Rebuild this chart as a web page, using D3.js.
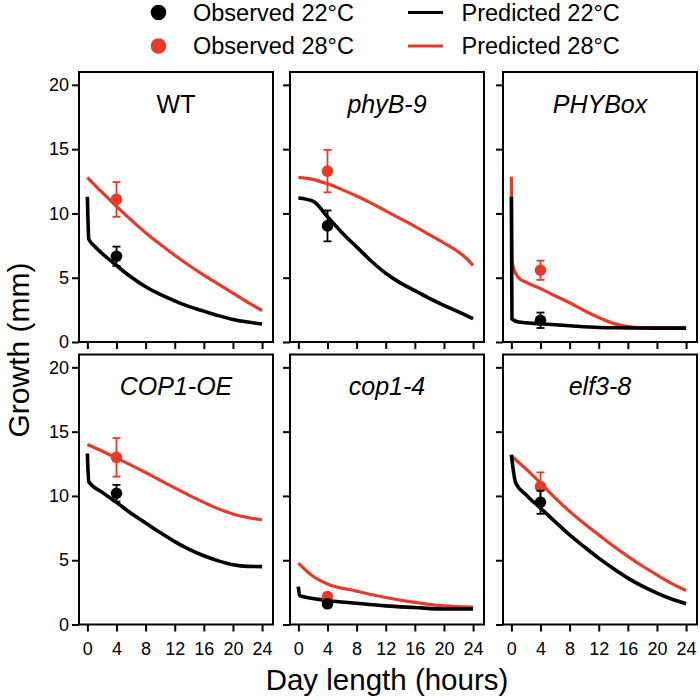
<!DOCTYPE html>
<html>
<head>
<meta charset="utf-8">
<script src="https://cdn.jsdelivr.net/npm/d3@7"></script>
<style>
  body { margin: 0; background: #fff; }
  svg { display: block; }
  text { font-family: "Liberation Sans", Arial, Helvetica, sans-serif; fill: #000; }
</style>
</head>
<body>
<svg id="chart" width="700" height="700"></svg>
<script>
// one panel per genotype
var genotypes = ["WT", "phyB-9", "PHYBox", "COP1-OE", "cop1-4", "elf3-8"];
var italicTitle = [false, true, true, true, true, true];
var xTicks = [0, 4, 8, 12, 16, 20, 24];
var yTicks = [0, 5, 10, 15, 20];

// observed growth at 4 h day length (mm), mean and error
var obsHour = 4;
var obs22 = [6.67, 9.03, 1.69, 10.21, 1.61, 9.51];
var err22 = [0.75, 1.2, 0.6, 0.65, 0.15, 0.9];
var obs28 = [11.09, 13.29, 5.58, 13.0, 2.18, 10.73];
var err28 = [1.35, 1.65, 0.75, 1.5, 0.15, 1.1];

// model predictions [day length, growth]
var pred22 = [
  [[0, 11.3], [0.2, 8.0], [1, 7.45], [2, 6.9], [4, 5.95], [6, 5.05], [8, 4.3], [10, 3.7], [12, 3.2], [14, 2.75], [16, 2.4], [18, 2.05], [20, 1.75], [22, 1.55], [24, 1.4]],
  [[0, 11.2], [2, 10.95], [4, 9.75], [6, 8.5], [8, 7.4], [10, 6.3], [12, 5.35], [14, 4.6], [16, 4.0], [18, 3.4], [20, 2.85], [22, 2.35], [24, 1.82]],
  [[0, 11.3], [0.08, 1.8], [1, 1.55], [4, 1.42], [8, 1.26], [12, 1.13], [16, 1.1], [20, 1.08], [24, 1.08]],
  [[0, 13.3], [0.2, 11.1], [2, 10.3], [4, 9.5], [6, 8.65], [8, 7.9], [10, 7.15], [12, 6.45], [14, 5.85], [16, 5.35], [18, 4.95], [20, 4.65], [22, 4.52], [24, 4.5]],
  [[0, 2.95], [0.15, 2.25], [4, 1.87], [8, 1.65], [12, 1.45], [16, 1.32], [20, 1.2], [24, 1.2]],
  [[0, 13.2], [0.6, 11.0], [2, 10.1], [4, 9.05], [6, 8.0], [8, 6.97], [10, 6.05], [12, 5.16], [14, 4.35], [16, 3.61], [18, 2.98], [20, 2.44], [22, 1.98], [24, 1.62]]
];
var pred28 = [
  [[0, 12.8], [2, 11.65], [4, 10.55], [6, 9.5], [8, 8.5], [10, 7.6], [12, 6.75], [14, 5.95], [16, 5.2], [18, 4.5], [20, 3.8], [22, 3.1], [24, 2.45]],
  [[0, 12.8], [2, 12.65], [4, 12.3], [6, 11.85], [8, 11.35], [10, 10.8], [12, 10.2], [14, 9.6], [16, 9.0], [18, 8.35], [20, 7.7], [22, 7.0], [23, 6.55], [24, 5.95]],
  [[0, 12.85], [0.08, 6.3], [0.5, 5.45], [1, 5.0], [2, 4.65], [4, 4.15], [6, 3.6], [8, 3.05], [10, 2.45], [12, 1.9], [14, 1.45], [16, 1.2], [18, 1.12], [24, 1.1]],
  [[0, 14.0], [2, 13.5], [4, 12.95], [6, 12.4], [8, 11.82], [10, 11.22], [12, 10.62], [14, 10.04], [16, 9.5], [18, 9.0], [20, 8.6], [22, 8.32], [24, 8.15]],
  [[0, 4.77], [2, 3.75], [4, 3.15], [8, 2.6], [12, 2.1], [16, 1.72], [20, 1.45], [24, 1.35]],
  [[0, 13.1], [2, 12.1], [4, 11.0], [6, 9.85], [8, 8.8], [10, 7.85], [12, 6.97], [14, 6.1], [16, 5.3], [18, 4.55], [20, 3.86], [22, 3.2], [24, 2.64]]
];

var black = "#000000", red = "#e63b2a";
var svg = d3.select("#chart");

var colX = [79, 290, 503], rowY = [72, 354.5];
var pw = 194, ph = 270;

genotypes.forEach(function (name, i) {
  var col = i % 3, row = Math.floor(i / 3);
  var x = d3.scaleLinear().domain([-1.15, 25.5]).range([colX[col], colX[col] + pw]);
  var y = d3.scaleLinear().domain([0, 21]).range([rowY[row] + ph, rowY[row]]);
  var g = svg.append("g");

  var xa = d3.axisBottom(x).tickValues(xTicks).tickSize(7).tickPadding(11)
    .tickFormat(row == 1 ? d3.format("d") : "");
  var gx = g.append("g").attr("transform", "translate(0," + (rowY[row] + ph) + ")").call(xa);
  var ya = d3.axisLeft(y).tickValues(yTicks).tickSize(7).tickPadding(3)
    .tickFormat(col == 0 ? d3.format("d") : "");
  var gy = g.append("g").attr("transform", "translate(" + colX[col] + ",0)").call(ya);
  [gx, gy].forEach(function (a) {
    a.select(".domain").remove();
    a.selectAll(".tick line").attr("stroke", black).attr("stroke-width", 2);
    a.selectAll(".tick text").style("font-size", "18px").attr("fill", black);
  });

  g.append("rect")
    .attr("x", colX[col]).attr("y", rowY[row])
    .attr("width", pw).attr("height", ph)
    .attr("fill", "none").attr("stroke", black).attr("stroke-width", 2);

  g.append("text")
    .attr("x", colX[col] + pw / 2).attr("y", rowY[row] + 40.5)
    .attr("text-anchor", "middle")
    .style("font-size", "25px")
    .style("font-style", italicTitle[i] ? "italic" : "normal")
    .text(name);

  var line = d3.line()
    .x(function (d) { return x(d[0]); })
    .y(function (d) { return y(d[1]); })
    .curve(d3.curveMonotoneX);

  g.append("path").datum(pred28[i]).attr("d", line)
    .attr("fill", "none").attr("stroke", red).attr("stroke-width", 3.2);
  g.append("path").datum(pred22[i]).attr("d", line)
    .attr("fill", "none").attr("stroke", black).attr("stroke-width", 3.6);

  // observed points, red first so black sits on top
  [[obs28[i], err28[i], red], [obs22[i], err22[i], black]].forEach(function (o) {
    var cx = x(obsHour);
    var eb = g.append("g").attr("stroke", o[2]).attr("stroke-width", 1.8);
    eb.append("line").attr("x1", cx).attr("x2", cx).attr("y1", y(o[0] - o[1])).attr("y2", y(o[0] + o[1]));
    eb.append("line").attr("x1", cx - 4).attr("x2", cx + 4).attr("y1", y(o[0] + o[1])).attr("y2", y(o[0] + o[1]));
    eb.append("line").attr("x1", cx - 4).attr("x2", cx + 4).attr("y1", y(o[0] - o[1])).attr("y2", y(o[0] - o[1]));
    g.append("circle").attr("cx", cx).attr("cy", y(o[0])).attr("r", 5.8).attr("fill", o[2]);
  });
});

// axis titles
svg.append("text")
  .attr("x", 387).attr("y", 690)
  .attr("text-anchor", "middle")
  .style("font-size", "29.5px")
  .text("Day length (hours)");
svg.append("text")
  .attr("transform", "translate(29,350) rotate(-90)")
  .attr("text-anchor", "middle")
  .style("font-size", "30px")
  .text("Growth (mm)");

// legend
var legendObs = ["Observed 22°C", "Observed 28°C"];
var legendPred = ["Predicted 22°C", "Predicted 28°C"];
var legendColors = [black, red];
var legendRowY = [12.5, 46];
legendRowY.forEach(function (ly, k) {
  svg.append("circle").attr("cx", 158.5).attr("cy", ly).attr("r", 7.8).attr("fill", legendColors[k]);
  svg.append("text").attr("x", 193).attr("y", ly + 8.4).style("font-size", "23.5px").text(legendObs[k]);
  svg.append("line").attr("x1", 408).attr("x2", 443).attr("y1", ly).attr("y2", ly)
    .attr("stroke", legendColors[k]).attr("stroke-width", 3.2);
  svg.append("text").attr("x", 461.5).attr("y", ly + 8.4).style("font-size", "23.5px").text(legendPred[k]);
});
</script>
</body>
</html>
